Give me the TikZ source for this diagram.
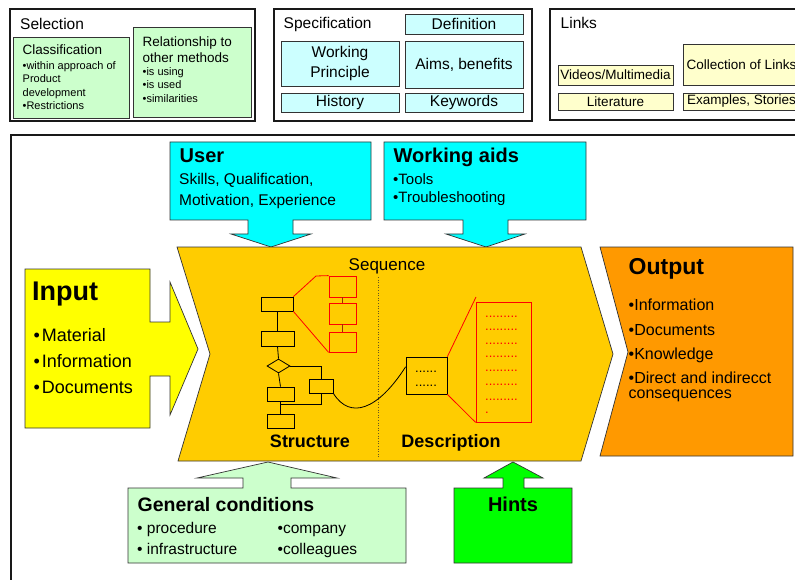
\documentclass[tikz,border=0pt]{standalone}
\usepackage{fontspec}
\setmainfont{Liberation Sans}
\usetikzlibrary{shapes.geometric,calc}
\definecolor{cGreenL}{HTML}{CCFFCC}
\definecolor{cCyanL}{HTML}{CCFFFF}
\definecolor{cYelL}{HTML}{FFFFCC}
\definecolor{cCyan}{HTML}{00FFFF}
\definecolor{cYel}{HTML}{FFFF00}
\definecolor{cGold}{HTML}{FFCC00}
\definecolor{cOrange}{HTML}{FF9900}
\definecolor{cGreen}{HTML}{00FF00}
\definecolor{cEdge}{HTML}{333333}
\definecolor{cRed}{HTML}{FF0000}
\definecolor{cRedDark}{HTML}{993300}
\definecolor{cSep}{HTML}{665522}
\begin{document}
\begin{tikzpicture}[x=1pt,y=-1pt,
  panel/.style={draw=black!90,line width=1.6pt},
  cell/.style={draw=cEdge,line width=0.7pt,inner sep=0pt,align=center},
  outl/.style={draw=cEdge,line width=0.7pt},
  tl/.style={inner sep=0pt,anchor=base west},
  tc/.style={inner sep=0pt,anchor=base},
  fb/.style={draw=black,line width=0.8pt,inner sep=0pt},
  rb/.style={draw=cRed,line width=0.8pt,inner sep=0pt},
  fA/.style={font=\fontsize{15.5}{18}\selectfont},
  fB/.style={font=\fontsize{13.5}{16}\selectfont},
  fC/.style={font=\fontsize{11}{13}\selectfont},
  fD/.style={font=\fontsize{13}{13}\selectfont},
]
\useasboundingbox (0,0) rectangle (795,580);
\fill[white] (0,0) rectangle (795,580);
\clip (0,0) rectangle (795,580);

% ---------- Selection panel ----------
\draw[panel] (10,9) rectangle (255,121);
\node[tl,fA] (tSel) at (20,30) {Selection};
\node[cell,fill=cGreenL,minimum width=116pt,minimum height=81pt] (cls) at (71,77.5) {};
\node[tl,fB] (tCls) at (22.5,55) {Classification};
\node[tl,fC] (tCls1) at (22.5,69.5) {•within approach of};
\node[tl,fC] (tCls2) at (22.5,83) {Product};
\node[tl,fC] (tCls3) at (22.5,96.5) {development};
\node[tl,fC] (tCls4) at (22.5,110) {•Restrictions};
\node[cell,fill=cGreenL,minimum width=118pt,minimum height=90pt] (rel) at (192,72) {};
\node[tl,fB] (tRel) at (142.5,47) {Relationship to};
\node[tl,fB] (tRel2) at (142.5,62.5) {other methods};
\node[tl,fC] (tRel3) at (142.5,75.5) {•is using};
\node[tl,fC] (tRel4) at (142.5,89) {•is used};
\node[tl,fC] (tRel5) at (142.5,102.5) {•similarities};

% ---------- Specification panel ----------
\draw[panel] (274,9) rectangle (532,121);
\node[tl,fA] (tSpec) at (283.5,28.5) {Specification};
\node[cell,fA,fill=cCyanL,minimum width=118pt,minimum height=20pt] (def) at (464,24) {Definition};
\node[cell,font=\fontsize{15.5}{19.5}\selectfont,fill=cCyanL,minimum width=118pt,minimum height=45pt] (wp) at (340,63.5) {Working\\Principle};
\node[cell,fA,fill=cCyanL,minimum width=118pt,minimum height=47pt] (aims) at (464,64.5) {Aims, benefits};
\node[cell,fA,fill=cCyanL,minimum width=118pt,minimum height=19pt] (hist) at (340,102.5) {History};
\node[cell,fA,fill=cCyanL,minimum width=118pt,minimum height=19pt] (kw) at (464,102.5) {Keywords};

% ---------- Links panel ----------
\draw[panel] (550,9) rectangle (830,120);
\node[tl,fA] (tLinks) at (560.5,28.5) {Links};
\node[cell,fB,fill=cYelL,minimum width=115pt,minimum height=20pt] (vid) at (615.5,75) {Videos/Multimedia};
\node[cell,fB,fill=cYelL,minimum width=117pt,minimum height=41pt] (col) at (741.5,64.5) {Collection of Links};
\node[cell,fB,fill=cYelL,minimum width=115pt,minimum height=17pt] (lit) at (615.5,101.5) {Literature};
\node[cell,fB,fill=cYelL,minimum width=117pt,minimum height=17pt] (ex) at (741.5,101.5) {Examples, Stories};

% ---------- main frame ----------
\draw[line width=1.4pt,draw=black!90] (11,620) -- (11,135) -- (830,135);

% ---------- User ----------
\draw[outl,fill=cCyan] (170,142) -- (371,142) -- (371,220) -- (293,220) -- (293,234) -- (311,234)
  -- (271,247) -- (231,234) -- (248,234) -- (248,220) -- (170,220) -- cycle;
\node[tl,font=\fontsize{20}{20}\selectfont\bfseries] (tUser) at (179.5,162.5) {User};
\node[tl,fA] (tUser1) at (179,185) {Skills, Qualification,};
\node[tl,fA] (tUser2) at (179,206) {Motivation, Experience};

% ---------- Working aids ----------
\draw[outl,fill=cCyan] (384,142) -- (586,142) -- (586,220) -- (508,220) -- (508,234) -- (525,234)
  -- (486,247) -- (446,234) -- (463,234) -- (463,220) -- (384,220) -- cycle;
\node[tl,font=\fontsize{20}{20}\selectfont\bfseries] (tWa) at (393.5,162.5) {Working aids};
\node[tl,font=\fontsize{15}{15}\selectfont] (tWa1) at (393,185) {•Tools};
\node[tl,font=\fontsize{15}{15}\selectfont] (tWa2) at (393,203) {•Troubleshooting};

% ---------- Input ----------
\draw[outl,fill=cYel] (25,269) -- (150,269) -- (150,322) -- (170,322) -- (170,282) -- (198,349)
  -- (170,415) -- (170,376) -- (150,376) -- (150,428) -- (25,428) -- cycle;
\node[tl,font=\fontsize{27}{27}\selectfont\bfseries] (tIn) at (32,300.5) {Input};
\node[tl,font=\fontsize{18}{18}\selectfont] (tIn1) at (33.3,341) {•\hspace{2pt}Material};
\node[tl,font=\fontsize{18}{18}\selectfont] (tIn2) at (33.3,367) {•\hspace{2pt}Information};
\node[tl,font=\fontsize{18}{18}\selectfont] (tIn3) at (33.3,393) {•\hspace{2pt}Documents};

% ---------- central sequence chevron ----------
\draw[outl,fill=cGold] (177,247) -- (581,247) -- (613,354) -- (581,461) -- (178,461) -- (210,354) -- cycle;
\node[tc,font=\fontsize{17}{17}\selectfont] (tSeq) at (387,270.5) {Sequence};
\coordinate (sepT) at (378,277);
\coordinate (sepB) at (378,457);
\draw[dotted,line width=0.6pt,draw=cSep] (sepT) -- (sepB);
\node[tc,font=\fontsize{18}{18}\selectfont\bfseries] (tStr) at (310,447) {Structure};
\node[tc,font=\fontsize{18}{18}\selectfont\bfseries] (tDesc) at (451,447) {Description};

% structure flowchart
\node[fb,minimum width=32pt,minimum height=14pt] (bA) at (277,304) {};
\node[fb,minimum width=33pt,minimum height=15pt] (bB) at (277.5,338.5) {};
\node[fb,diamond,minimum width=23pt,minimum height=14pt] (dm) at (278.5,366) {};
\node[fb,minimum width=27pt,minimum height=14pt] (bC) at (280.5,394) {};
\node[fb,minimum width=27pt,minimum height=14pt] (bD) at (280.5,421) {};
\node[fb,minimum width=24pt,minimum height=14pt] (bE) at (321,386) {};
\coordinate (jn) at (280.5,404);
\draw[line width=0.8pt] (bA.south) -- (bA.south |- bB.north);
\draw[line width=0.8pt] (bB.south) -- (dm.north);
\draw[line width=0.8pt] (dm.south) -- (bC.north);
\draw[line width=0.8pt] (bC.south) -- (bD.north);
\draw[line width=0.8pt] (dm.east) -| (bE.north);
\draw[line width=0.8pt] (bE.south) |- (jn);

% red detail boxes
\node[rb,minimum width=27pt,minimum height=21pt] (rR1) at (342.5,286.5) {};
\node[rb,minimum width=27pt,minimum height=21pt] (rR2) at (342.5,313.5) {};
\node[rb,minimum width=27pt,minimum height=20pt] (rR3) at (342.5,342) {};
\draw[line width=0.8pt,draw=cRedDark] (rR1.south) -- (rR2.north);
\draw[line width=0.8pt,draw=cRedDark] (rR2.south) -- (rR3.north);
\coordinate (rA) at (316,276);
\draw[line width=0.8pt,draw=cRed] (bA.north east) -- (rA) -- (rR1.north west);
\draw[line width=0.8pt,draw=cRed] (bA.south east) -- (rR3.south west);

% description box
\node[fb,minimum width=41pt,minimum height=37pt] (bDs) at (426.5,375.5) {};
\node[tl,fD] (dd1) at (415,372) {......};
\node[tl,fD] (dd2) at (415,386) {......};
\coordinate (cEnd) at ($(bDs.north west)!0.27!(bDs.south west)$);
\draw[line width=0.8pt] (bE.south east) .. controls (350,420) and (378,410) .. (cEnd);

% big red description list
\node[rb,minimum width=55pt,minimum height=120pt] (rBig) at (503.5,362) {};
\coordinate (rT) at (476,297);
\draw[line width=0.8pt,draw=cRed] (bDs.north east) -- (rT);
\draw[line width=0.8pt,draw=cRed] (bDs.south east) -- (rBig.south west);
\foreach \yy [count=\k] in {317,330.7,344,357.7,371.7,385.7,400}
  \node[tl,fD,text=cRed] (rd\k) at (485,\yy) {.........};
\node[tl,fD,text=cRed] (rd8) at (485,413) {.};

% ---------- Output ----------
\draw[outl,fill=cOrange] (600,247) -- (793,247) -- (793,456) -- (600,456) -- (628,352) -- cycle;
\node[tl,font=\fontsize{23}{23}\selectfont\bfseries] (tOut) at (628.5,274) {Output};
\node[tl,font=\fontsize{16}{16}\selectfont] (tOut1) at (628.5,310) {•Information};
\node[tl,font=\fontsize{16}{16}\selectfont] (tOut2) at (628.5,335) {•Documents};
\node[tl,font=\fontsize{16}{16}\selectfont] (tOut3) at (628.5,359) {•Knowledge};
\node[tl,font=\fontsize{16}{16}\selectfont] (tOut4) at (628.5,383) {•Direct and indirecct};
\node[tl,font=\fontsize{16}{16}\selectfont] (tOut5) at (628.5,398) {consequences};

% ---------- General conditions ----------
\draw[outl,fill=cGreenL] (128,488) -- (243,488) -- (243,478) -- (197,478) -- (268,462) -- (337,478)
  -- (291,478) -- (291,488) -- (406,488) -- (406,563) -- (128,563) -- cycle;
\node[tl,font=\fontsize{19.5}{19.5}\selectfont\bfseries] (tGc) at (137.5,511) {General conditions};
\node[tl,fA] (tGc1) at (137,533) {• procedure};
\node[tl,fA] (tGc2) at (137,554) {• infrastructure};
\node[tl,fA] (tGc3) at (277.5,533) {•company};
\node[tl,fA] (tGc4) at (277.5,554) {•colleagues};

% ---------- Hints ----------
\draw[outl,fill=cGreen] (454,488) -- (503,488) -- (503,478) -- (484,478) -- (513,462) -- (543,478)
  -- (524,478) -- (524,488) -- (572,488) -- (572,563) -- (454,563) -- cycle;
\node[tc,font=\fontsize{20}{20}\selectfont\bfseries] (tHints) at (513,511) {Hints};
\end{tikzpicture}
\end{document}
